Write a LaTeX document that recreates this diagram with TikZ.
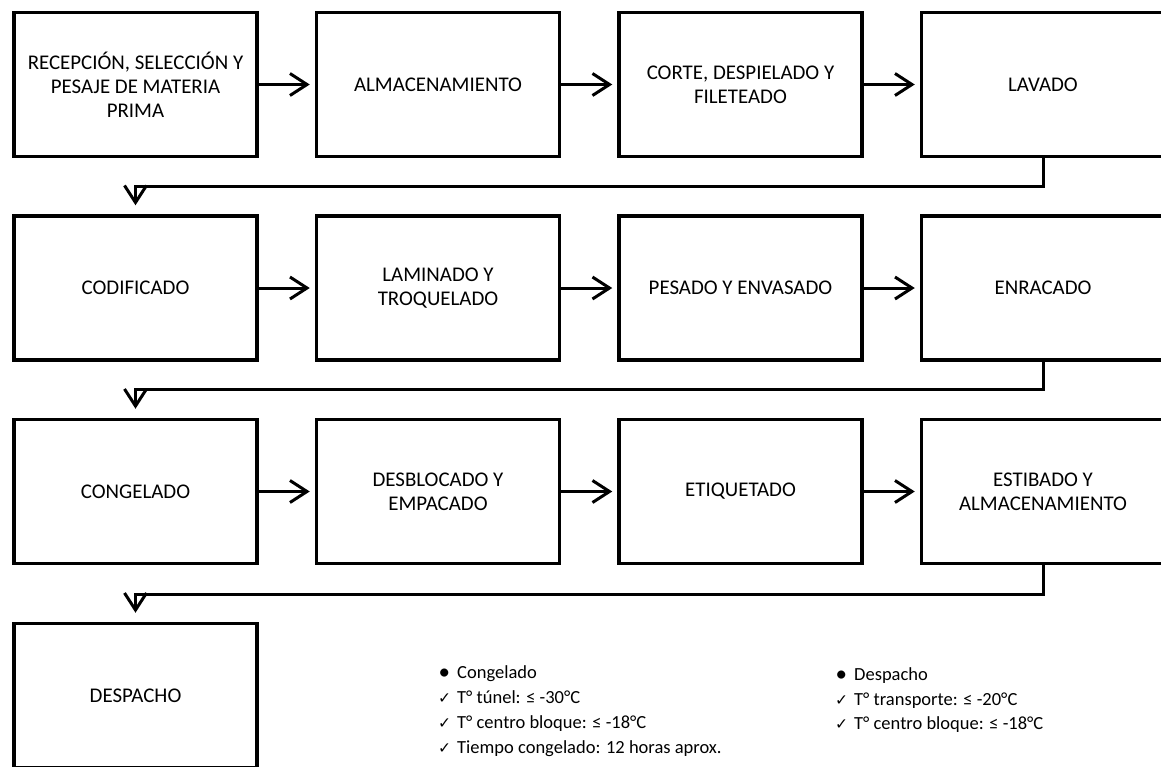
\documentclass[tikz,border=0pt]{standalone}
\usepackage{fontspec}
\setmainfont{Carlito}
\newfontfamily\symfont{DejaVu Sans}
\usetikzlibrary{arrows.meta}
\newcommand{\chk}{\makebox[19pt][l]{{\symfont\fontsize{15.5}{15}\selectfont ✓}}}
\newcommand{\bul}{\makebox[19pt][l]{\hspace{0.5pt}\raisebox{-1pt}{\fontsize{23}{23}\selectfont\textbullet}}}
\tikzset{
  box/.style={draw, line width=3.5pt, rectangle, minimum width=243pt, minimum height=144pt,
    align=center, inner sep=2pt, font=\fontsize{20.9}{24}\selectfont},
  arr/.style={line width=3pt, -{Straight Barb[length=17pt,width=22pt]}, shorten >=5pt},
  darr/.style={line width=3pt, -{Straight Barb[length=17pt,width=22pt]}, shorten >=9pt},
  note/.style={anchor=base west, inner sep=0pt, font=\fontsize{18.5}{25}\selectfont}
}
\begin{document}
\begin{tikzpicture}[x=1pt,y=-1pt]
\useasboundingbox (0,0) rectangle (1161,766);
% row 1
\node[box] (b1) at (135.5,84.5) {RECEPCIÓN, SELECCIÓN Y\\PESAJE DE MATERIA\\PRIMA};
\node[box] (b2) at (438,84.5) {ALMACENAMIENTO};
\node[box] (b3) at (740.5,84.5) {CORTE, DESPIELADO Y\\FILETEADO};
\node[box] (b4) at (1043,84.5) {LAVADO};
% row 2
\node[box] (b5) at (135.5,288) {CODIFICADO};
\node[box] (b6) at (438,288) {LAMINADO Y\\TROQUELADO};
\node[box] (b7) at (740.5,288) {PESADO Y ENVASADO};
\node[box] (b8) at (1043,288) {ENRACADO};
% row 3
\node[box] (b9) at (135.5,491.5) {CONGELADO};
\node[box] (b10) at (438,491.5) {DESBLOCADO Y\\EMPACADO};
\node[box] (b11) at (740.5,491.5) {ETIQUETADO};
\node[box] (b12) at (1043,491.5) {ESTIBADO Y\\ALMACENAMIENTO};
% row 4
\node[box] (b13) at (135.5,695.5) {DESPACHO};
% horizontal arrows
\draw[arr] (b1.east) -- (b2.west);
\draw[arr] (b2.east) -- (b3.west);
\draw[arr] (b3.east) -- (b4.west);
\draw[arr] (b5.east) -- (b6.west);
\draw[arr] (b6.east) -- (b7.west);
\draw[arr] (b7.east) -- (b8.west);
\draw[arr] (b9.east) -- (b10.west);
\draw[arr] (b10.east) -- (b11.west);
\draw[arr] (b11.east) -- (b12.west);
% row change connectors
\draw[darr] (b4.south) -- ++(0,28) -| (b5.north);
\draw[darr] (b8.south) -- ++(0,28) -| (b9.north);
\draw[darr] (b12.south) -- ++(0,29) -| (b13.north);
% notes
\node[note] (c1) at (438,678) {\bul Congelado};
\node[note] (c2) at (438,703) {\chk T° túnel: ≤ -30°C};
\node[note] (c3) at (438,728) {\chk T° centro bloque: ≤ -18°C};
\node[note] (c4) at (438,753) {\chk Tiempo congelado: 12 horas aprox.};
\node[note] (d1) at (835,680) {\bul Despacho};
\node[note] (d2) at (835,705) {\chk T° transporte: ≤ -20°C};
\node[note] (d3) at (835,729) {\chk T° centro bloque: ≤ -18°C};
\end{tikzpicture}
\end{document}
